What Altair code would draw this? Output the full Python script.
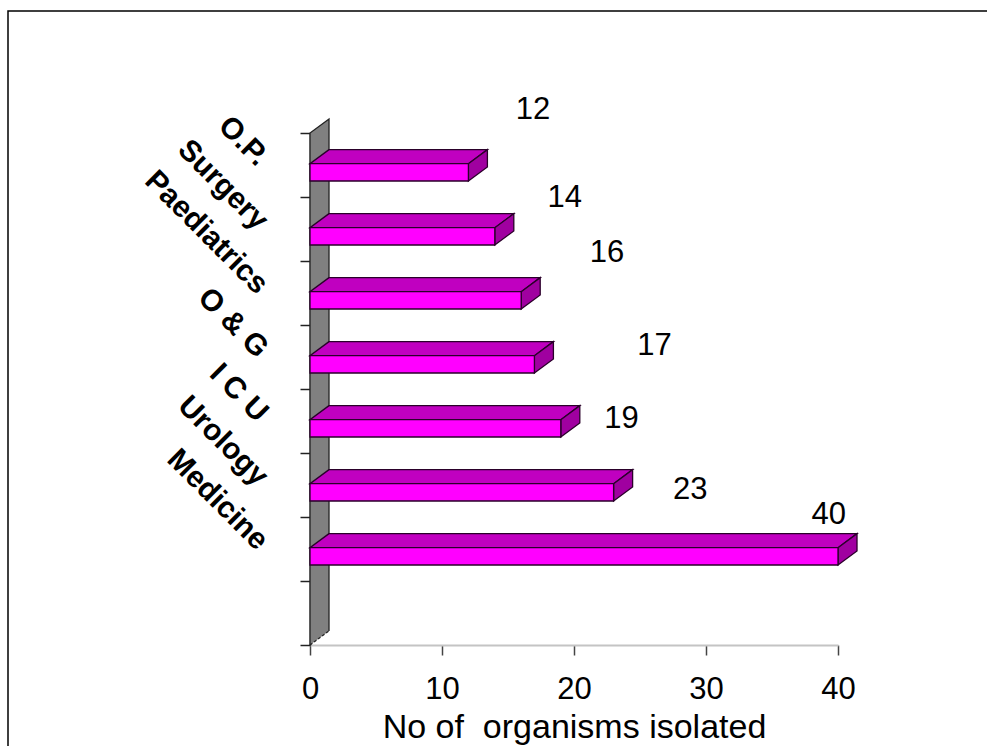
import altair as alt
import pandas as pd

# Organisms isolated per ward
categories = ["O.P.", "Surgery", "Paediatrics", "O & G", "I C U", "Urology", "Medicine"]
organisms = [12, 14, 16, 17, 19, 23, 40]
slots = [7, 6, 5, 4, 3, 2, 1]          # band index counted up from the floor; band 0 stays empty
x_ticks = [0, 10, 20, 30, 40]

# where each value label floats, relative to the end of its bar (x in counts, y in bands)
label_dx = [4.9, 5.3, 6.5, 9.1, 4.6, 5.8, -0.7]
label_dy = [1.36, 0.98, 1.12, 0.67, 0.53, 0.42, 1.03]

# pseudo-3D geometry, in data units
N_SLOTS = 8
DEPTH_X = 1.44
DEPTH_Y = 0.22
FACE_LO = 0.25
FACE_HI = 0.52

FONT = "Liberation Sans"
OUTLINE = "#2a002a"

xs = alt.Scale(domain=[0, 40], nice=False, zero=False)
ys = alt.Scale(domain=[0, N_SLOTS], nice=False, zero=False)

bars = pd.DataFrame({"ward": categories, "n": organisms, "slot": slots})
bars["lo"] = bars["slot"] + FACE_LO
bars["hi"] = bars["slot"] + FACE_HI
bars["zero"] = 0

top_rows, side_rows = [], []
for c, v, s in zip(categories, organisms, slots):
    top_rows.append({"ward": c, "y": s + FACE_HI, "x": 0, "x2": v})
    top_rows.append({"ward": c, "y": s + FACE_HI + DEPTH_Y, "x": DEPTH_X, "x2": v + DEPTH_X})
    side_rows.append({"ward": c, "x": v, "y": s + FACE_LO, "y2": s + FACE_HI})
    side_rows.append({"ward": c, "x": v + DEPTH_X, "y": s + FACE_LO + DEPTH_Y, "y2": s + FACE_HI + DEPTH_Y})
top = pd.DataFrame(top_rows)
side = pd.DataFrame(side_rows)

wall = pd.DataFrame({"x": [0, DEPTH_X], "y": [0, DEPTH_Y], "y2": [N_SLOTS, N_SLOTS + DEPTH_Y]})
wall_edge = pd.DataFrame({
    "x": [0, 0, DEPTH_X, DEPTH_X],
    "y": [0, N_SLOTS, N_SLOTS + DEPTH_Y, DEPTH_Y],
    "k": [0, 1, 2, 3],
})
wall_floor = pd.DataFrame({"x": [0], "y": [0], "x2": [DEPTH_X], "y2": [DEPTH_Y]})

labels = pd.DataFrame({
    "txt": [str(v) for v in organisms],
    "x": [v + d for v, d in zip(organisms, label_dx)],
    "y": [s + d for s, d in zip(slots, label_dy)],
})
ward_labels = pd.DataFrame({"ward": categories, "y": [s + 0.56 for s in slots]})

frame = alt.Chart(pd.DataFrame({"k": [0]})).mark_rect(
    fillOpacity=0, stroke="black", strokeWidth=1.5
).encode(x=alt.value(-302), x2=alt.value(720), y=alt.value(-122), y2=alt.value(660))

wall_fill = alt.Chart(wall).mark_area(orient="vertical", color="#808080").encode(
    x=alt.X("x:Q", scale=xs,
            axis=alt.Axis(values=x_ticks, title="No of\u00a0 organisms isolated", grid=False,
                          labelFont=FONT, labelFontSize=31, labelColor="black", labelPadding=19,
                          labelFlush=False,
                          titleFont=FONT, titleFontSize=34, titleFontWeight="normal",
                          titleColor="black", titlePadding=6,
                          domainColor="#c4c4c4", domainWidth=2, tickColor="#444444",
                          tickSize=10, tickWidth=1.5)),
    y=alt.Y("y:Q", scale=ys, stack=False,
            axis=alt.Axis(values=list(range(N_SLOTS + 1)), labels=False, title=None, grid=False,
                          domainColor="#222222", domainWidth=1.5, tickColor="#222222",
                          tickSize=10, tickWidth=1.5)),
    y2="y2:Q",
)
wall_line = alt.Chart(wall_edge).mark_line(color="#222222", strokeWidth=1.3).encode(
    x=alt.X("x:Q", scale=xs), y=alt.Y("y:Q", scale=ys), order="k:Q"
)
wall_dash = alt.Chart(wall_floor).mark_rule(color="#222222", strokeWidth=1.3, strokeDash=[3, 2]).encode(
    x=alt.X("x:Q", scale=xs), y=alt.Y("y:Q", scale=ys), x2="x2:Q", y2="y2:Q"
)

top_face = alt.Chart(top).mark_area(
    orient="horizontal", color="#c000c0", stroke=OUTLINE, strokeWidth=1.3
).encode(
    y=alt.Y("y:Q", scale=ys), x=alt.X("x:Q", scale=xs, stack=False), x2="x2:Q", detail="ward:N"
)
side_face = alt.Chart(side).mark_area(
    orient="vertical", color="#a000a0", stroke=OUTLINE, strokeWidth=1.3
).encode(
    x=alt.X("x:Q", scale=xs), y=alt.Y("y:Q", scale=ys, stack=False), y2="y2:Q", detail="ward:N"
)
front_face = alt.Chart(bars).mark_rect(color="#ff00ff", stroke=OUTLINE, strokeWidth=1.3).encode(
    x=alt.X("zero:Q", scale=xs), x2="n:Q", y=alt.Y("lo:Q", scale=ys), y2="hi:Q"
)

value_text = alt.Chart(labels).mark_text(
    font=FONT, fontSize=31, color="black", align="center", baseline="middle"
).encode(x=alt.X("x:Q", scale=xs), y=alt.Y("y:Q", scale=ys), text="txt:N")

ward_text = alt.Chart(ward_labels).mark_text(
    font=FONT, fontSize=30, fontWeight="bold", color="black",
    align="right", baseline="middle", angle=45
).encode(x=alt.value(-47), y=alt.Y("y:Q", scale=ys), text="ward:N")

chart = alt.layer(
    frame, wall_fill, wall_line, wall_dash, top_face, side_face, front_face, value_text, ward_text
).properties(
    width=528, height=512,
    padding={"left": 310, "top": 133, "right": 149, "bottom": 101},
    autosize=alt.AutoSizeParams(type="none"),
    background="white",
).configure_view(stroke="transparent")

chart.save("out.html", embed_options={"renderer": "svg", "actions": False})
